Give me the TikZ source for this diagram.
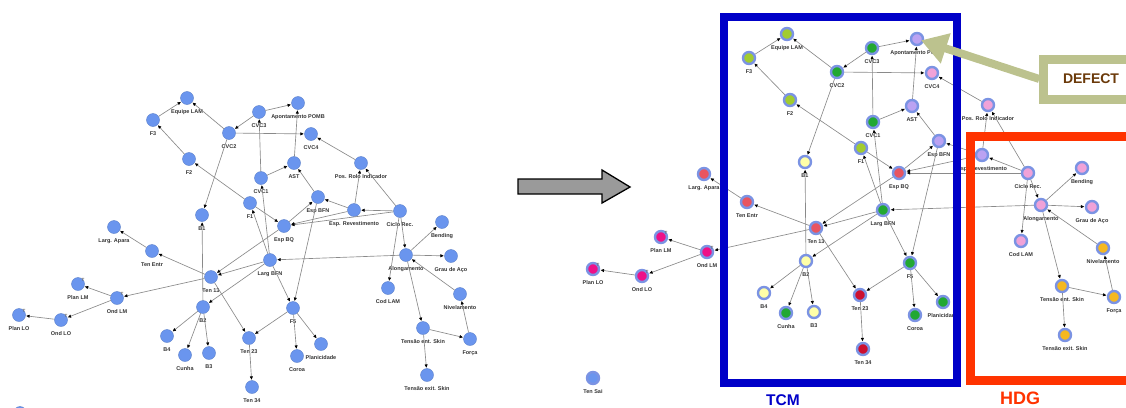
\documentclass[tikz,border=0pt]{standalone}
\usepackage{fontspec}
\newfontfamily\lblfont{Liberation Sans}
\usetikzlibrary{arrows.meta}
\definecolor{nodeblue}{HTML}{6A95EE}
\definecolor{ringblue}{HTML}{7B93E3}
\definecolor{edgegray}{HTML}{8A8A8A}
\definecolor{tcmblue}{HTML}{0000C8}
\definecolor{hdgred}{HTML}{FF3300}
\definecolor{oliveframe}{HTML}{BCC28E}
\definecolor{defectbrown}{HTML}{6B3A0A}
\definecolor{arrowgray}{HTML}{9A9A9A}
% fill colours of the coloured network
\definecolor{cYG}{HTML}{A2CC30}
\definecolor{cGR}{HTML}{22A832}
\definecolor{cLV}{HTML}{BBA2F2}
\definecolor{cPK}{HTML}{F0A2D8}
\definecolor{cPY}{HTML}{FFFFA8}
\definecolor{cRD}{HTML}{E85560}
\definecolor{cDR}{HTML}{CC1030}
\definecolor{cMG}{HTML}{EE1188}
\definecolor{cOR}{HTML}{F5B820}
\definecolor{cBL}{HTML}{6A95EE}
\begin{document}
\begin{tikzpicture}[x=1pt,y=-1pt,
  lbl/.style={font=\lblfont\bfseries\fontsize{5.5}{6}\selectfont, text=black!80, inner sep=0.5pt, label distance=4pt},
  lnode/.style={circle, minimum size=13pt, inner sep=0pt, fill=nodeblue, draw=nodeblue!85!black, line width=0.4pt},
  rnode/.style={circle, minimum size=12pt, inner sep=0pt, draw=ringblue, line width=2.4pt, fill=#1},
  edge/.style={draw=edgegray, line width=0.65pt, -{Latex[length=3.6pt,width=3.4pt,color=black]}, shorten >=0.3pt},
  tbadge/.style={font=\lblfont\bfseries\fontsize{4.5}{4.5}\selectfont, text=black!60, inner sep=0pt}]
\useasboundingbox (0,0) rectangle (1126,407);

% ---------- plain network ----------
\foreach \n/\x/\y/\t in {
  EquipeLAM/187/98/Equipe LAM, F3/153/120/F3, CVC2/229/133/CVC2, CVC3/259/112/CVC3,
  Apont/298/103/Apontamento POMB, CVC4/311/134/CVC4, F2/189/159/F2, AST/294/163/AST,
  CVC1/261/178/CVC1, F1/250/203/F1, EspBFN/318/197/Esp BFN, B1/202/215/B1,
  EspBQ/284/226/Esp BQ, PosRolo/361/163/Pos. Rolo Indicador, EspRev/354/210/Esp. Revestimento,
  Ciclo/400/211/Ciclo Rec., Bending/442/222/Bending, Along/406/255/Alongamento,
  Grau/451/256/Grau de Aço, CodLAM/388/288/Cod LAM, Nivel/460/294/Nivelamento,
  TensEnt/423/328/Tensão ent. Skin, Forca/470/339/Força, TensExit/427/375/Tensão exit. Skin,
  LargApara/114/227/Larg. Apara, TenEntr/152/251/Ten Entr, TenXIII/211/277/Ten 13,
  LargBFN/270/260/Larg BFN, B2/203/307/B2, F5/293/308/F5, B4/167/336/B4, Cunha/185/355/Cunha,
  B3/209/353/B3, Ten23/249/338/Ten 23, Planic/321/344/Planicidade, Coroa/297/356/Coroa,
  Ten34/252/387/Ten 34, OndLM/117/298/Ond LM, PlanLM/78/284/Plan LM, OndLO/61/320/Ond LO,
  PlanLO/19/315/Plan LO}
  \node[lnode, label={[lbl]below:\t}] (L\n) at (\x,\y) {};
\node[lnode] (LTenSai) at (20,413) {};

% ---------- coloured network ----------
\foreach \n/\x/\y/\c/\t in {
  EquipeLAM/787/34/cYG/Equipe LAM, F3/749/58/cYG/F3, CVC2/837/72/cGR/CVC2, CVC3/872/48/cGR/CVC3,
  Apont/917/39/cLV/Apontamento POMB, CVC4/932/73/cPK/CVC4, F2/790/100/cYG/F2, AST/912/106/cLV/AST,
  CVC1/873/122/cGR/CVC1, F1/861/148/cYG/F1, EspBFN/939/141/cLV/Esp BFN, B1/805/162/cPY/B1,
  EspBQ/899/173/cRD/Esp BQ, PosRolo/988/105/cPK/Pos. Rolo Indicador, EspRev/982/155/cLV/Esp. Revestimento,
  Ciclo/1028/173/cPK/Ciclo Rec., Bending/1082/168/cPK/Bending, Along/1041/205/cPK/Alongamento,
  Grau/1092/207/cPK/Grau de Aço, CodLAM/1021/241/cPK/Cod LAM, Nivel/1103/248/cOR/Nivelamento,
  TensEnt/1062/286/cOR/Tensão ent. Skin, Forca/1114/297/cOR/Força, TensExit/1065/335/cOR/Tensão exit. Skin,
  LargApara/704/174/cRD/Larg. Apara, TenEntr/747/202/cRD/Ten Entr, TenXIII/816/228/cRD/Ten 13,
  LargBFN/883/210/cGR/Larg BFN, B2/806/261/cPY/B2, F5/910/263/cGR/F5, B4/764/293/cPY/B4,
  Cunha/786/313/cGR/Cunha, B3/814/312/cPY/B3, Ten23/860/295/cDR/Ten 23, Planic/943/302/cGR/Planicidade,
  Coroa/915/315/cGR/Coroa, Ten34/863/349/cDR/Ten 34, OndLM/707/252/cMG/Ond LM, PlanLM/661/237/cMG/Plan LM,
  OndLO/642/276/cMG/Ond LO, PlanLO/593/269/cMG/Plan LO, TenSai/593/378/cBL/Ten Sai}
  \node[rnode=\c, label={[lbl]below:\t}] (R\n) at (\x,\y) {};

% small T marks on the flatness / waviness nodes
\foreach \p in {L,R}
  \foreach \n in {OndLM, PlanLM, OndLO, PlanLO}
    \node[tbadge] (T\p\n) at ([shift={(5pt,4pt)}]\p\n.center) {T};

% ---------- arcs (identical in both networks) ----------
\foreach \p in {L,R}
  \foreach \a/\b in {
    F3/EquipeLAM, CVC2/EquipeLAM, F2/F3, F1/F2, F1/EspBQ, CVC3/CVC2, CVC3/Apont, CVC2/CVC4,
    CVC2/B1, CVC1/CVC3, AST/Apont, CVC1/AST, EspBFN/AST, PosRolo/CVC4, EspBQ/EspBFN,
    EspRev/EspBFN, EspRev/EspBQ, Ciclo/EspBQ, Ciclo/EspRev, EspRev/PosRolo, Ciclo/PosRolo,
    Ciclo/Along, Ciclo/CodLAM, Along/Bending, Along/Grau, Along/TensEnt, Nivel/Along,
    Forca/Nivel, TensEnt/Forca, TensEnt/TensExit, Along/LargBFN, LargBFN/F1, LargBFN/CVC1,
    LargBFN/TenXIII, EspBQ/TenXIII, LargBFN/B2, LargBFN/F5, EspBFN/F5, B2/B1, B2/B4, B2/Cunha,
    B2/B3, TenXIII/TenEntr, TenEntr/LargApara, TenXIII/OndLM, OndLM/PlanLM, OndLM/OndLO,
    OndLO/PlanLO, TenXIII/Ten23, F5/Ten23, F5/Coroa, F5/Planic, Ten23/Ten34}
    \draw[edge] (\p\a) -- (\p\b);

% ---------- big grey arrow between the two networks ----------
\draw[fill=arrowgray, draw=black, line width=1.3pt, line join=miter]
  (518,179) -- (602,179) -- (602,170) -- (630,187) -- (602,203) -- (602,194) -- (518,194) -- cycle;

% ---------- group frames ----------
\draw[draw=tcmblue, line width=8pt] (724,17) rectangle (957,383);
\draw[draw=hdgred, line width=9pt] (970.5,136) rectangle (1145,380.5);
\node[font=\lblfont\bfseries\fontsize{15.5}{16}\selectfont, text=tcmblue, inner sep=0pt] (tcm) at (783,400) {TCM};
\node[font=\lblfont\bfseries\fontsize{18}{18}\selectfont, text=hdgred, inner sep=0pt] (hdg) at (1020,398) {HDG};

% ---------- defect callout ----------
\node[draw=oliveframe, line width=9pt, fill=white, minimum width=91.5pt, minimum height=40pt,
      inner sep=0pt, font=\lblfont\bfseries\fontsize{14}{14}\selectfont, text=defectbrown]
  (defect) at (1089.5,79) {\hspace*{3pt}DEFECT};
\draw[draw=oliveframe, line width=8pt, -{Triangle[length=26pt,width=30pt]}, shorten >=-3pt]
  (defect.west) -- (RApont);
\end{tikzpicture}
\end{document}
